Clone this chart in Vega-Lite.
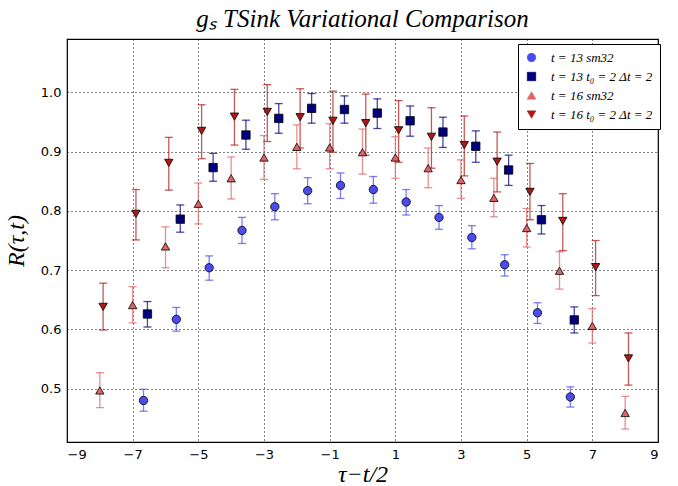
{
  "$schema": "https://vega.github.io/schema/vega-lite/v6.json",
  "autosize": "none",
  "width": 591,
  "height": 403,
  "padding": {"left": 67, "top": 39, "right": 20, "bottom": 44},
  "background": "white",
  "title": {"text": "gₛ TSink Variational Comparison", "font": "Liberation Serif", "fontStyle": "italic", "fontWeight": "normal", "fontSize": 25, "color": "black", "offset": 7},
  "config": {
    "view": {"stroke": "black", "strokeWidth": 1.2},
    "axis": {"grid": true, "gridColor": "black", "gridDash": [1, 3], "gridWidth": 1, "gridOpacity": 1, "domain": false, "ticks": false, "labelFont": "DejaVu Sans", "labelFontSize": 13, "labelColor": "black", "labelPadding": 6, "titleFont": "Liberation Serif", "titleFontStyle": "italic", "titleFontWeight": "normal", "titleFontSize": 24, "titleColor": "black"},
    "legend": {"strokeColor": "black", "fillColor": "white", "padding": 7, "rowPadding": 5, "symbolSize": 70, "symbolStrokeColor": "black", "symbolStrokeWidth": 0.8, "symbolOpacity": 1, "labelFont": "Liberation Serif", "labelFontStyle": "italic", "labelFontSize": 13, "labelColor": "black", "labelOffset": 13}
  },
  "datasets": {
    "pts": [
      {"s": "A", "x": -6.67, "y": 0.480, "lo": 0.462, "hi": 0.499},
      {"s": "A", "x": -5.67, "y": 0.617, "lo": 0.597, "hi": 0.637},
      {"s": "A", "x": -4.67, "y": 0.704, "lo": 0.683, "hi": 0.724},
      {"s": "A", "x": -3.67, "y": 0.767, "lo": 0.745, "hi": 0.789},
      {"s": "A", "x": -2.67, "y": 0.807, "lo": 0.785, "hi": 0.829},
      {"s": "A", "x": -1.67, "y": 0.834, "lo": 0.812, "hi": 0.856},
      {"s": "A", "x": -0.67, "y": 0.843, "lo": 0.821, "hi": 0.864},
      {"s": "A", "x": 0.33, "y": 0.836, "lo": 0.813, "hi": 0.858},
      {"s": "A", "x": 1.33, "y": 0.815, "lo": 0.793, "hi": 0.836},
      {"s": "A", "x": 2.33, "y": 0.789, "lo": 0.769, "hi": 0.809},
      {"s": "A", "x": 3.33, "y": 0.755, "lo": 0.736, "hi": 0.775},
      {"s": "A", "x": 4.33, "y": 0.709, "lo": 0.690, "hi": 0.726},
      {"s": "A", "x": 5.33, "y": 0.628, "lo": 0.610, "hi": 0.645},
      {"s": "A", "x": 6.33, "y": 0.486, "lo": 0.469, "hi": 0.503},
      {"s": "B", "x": -6.55, "y": 0.626, "lo": 0.604, "hi": 0.647},
      {"s": "B", "x": -5.55, "y": 0.786, "lo": 0.764, "hi": 0.810},
      {"s": "B", "x": -4.55, "y": 0.873, "lo": 0.850, "hi": 0.897},
      {"s": "B", "x": -3.55, "y": 0.928, "lo": 0.904, "hi": 0.953},
      {"s": "B", "x": -2.55, "y": 0.956, "lo": 0.931, "hi": 0.981},
      {"s": "B", "x": -1.55, "y": 0.973, "lo": 0.948, "hi": 0.998},
      {"s": "B", "x": -0.55, "y": 0.971, "lo": 0.948, "hi": 0.994},
      {"s": "B", "x": 0.45, "y": 0.965, "lo": 0.939, "hi": 0.989},
      {"s": "B", "x": 1.45, "y": 0.952, "lo": 0.926, "hi": 0.977},
      {"s": "B", "x": 2.45, "y": 0.933, "lo": 0.907, "hi": 0.958},
      {"s": "B", "x": 3.45, "y": 0.909, "lo": 0.882, "hi": 0.935},
      {"s": "B", "x": 4.45, "y": 0.869, "lo": 0.843, "hi": 0.894},
      {"s": "B", "x": 5.45, "y": 0.785, "lo": 0.761, "hi": 0.809},
      {"s": "B", "x": 6.45, "y": 0.616, "lo": 0.594, "hi": 0.638},
      {"s": "C", "x": -8, "y": 0.497, "lo": 0.468, "hi": 0.527},
      {"s": "C", "x": -7, "y": 0.641, "lo": 0.611, "hi": 0.672},
      {"s": "C", "x": -6, "y": 0.740, "lo": 0.704, "hi": 0.773},
      {"s": "C", "x": -5, "y": 0.812, "lo": 0.778, "hi": 0.847},
      {"s": "C", "x": -4, "y": 0.855, "lo": 0.820, "hi": 0.891},
      {"s": "C", "x": -3, "y": 0.890, "lo": 0.853, "hi": 0.927},
      {"s": "C", "x": -2, "y": 0.908, "lo": 0.871, "hi": 0.945},
      {"s": "C", "x": -1, "y": 0.907, "lo": 0.871, "hi": 0.947},
      {"s": "C", "x": 0, "y": 0.899, "lo": 0.862, "hi": 0.938},
      {"s": "C", "x": 1, "y": 0.890, "lo": 0.855, "hi": 0.925},
      {"s": "C", "x": 2, "y": 0.872, "lo": 0.839, "hi": 0.906},
      {"s": "C", "x": 3, "y": 0.852, "lo": 0.821, "hi": 0.886},
      {"s": "C", "x": 4, "y": 0.822, "lo": 0.790, "hi": 0.855},
      {"s": "C", "x": 5, "y": 0.771, "lo": 0.739, "hi": 0.804},
      {"s": "C", "x": 6, "y": 0.699, "lo": 0.668, "hi": 0.731},
      {"s": "C", "x": 7, "y": 0.606, "lo": 0.577, "hi": 0.635},
      {"s": "C", "x": 8, "y": 0.459, "lo": 0.432, "hi": 0.487},
      {"s": "D", "x": -7.9, "y": 0.638, "lo": 0.599, "hi": 0.678},
      {"s": "D", "x": -6.9, "y": 0.795, "lo": 0.751, "hi": 0.836},
      {"s": "D", "x": -5.9, "y": 0.881, "lo": 0.835, "hi": 0.924},
      {"s": "D", "x": -4.9, "y": 0.935, "lo": 0.888, "hi": 0.979},
      {"s": "D", "x": -3.9, "y": 0.959, "lo": 0.911, "hi": 1.005},
      {"s": "D", "x": -2.9, "y": 0.967, "lo": 0.917, "hi": 1.013},
      {"s": "D", "x": -1.9, "y": 0.958, "lo": 0.906, "hi": 1.006},
      {"s": "D", "x": -0.9, "y": 0.952, "lo": 0.899, "hi": 1.002},
      {"s": "D", "x": 0.1, "y": 0.948, "lo": 0.894, "hi": 0.997},
      {"s": "D", "x": 1.1, "y": 0.936, "lo": 0.882, "hi": 0.986},
      {"s": "D", "x": 2.1, "y": 0.925, "lo": 0.872, "hi": 0.974},
      {"s": "D", "x": 3.1, "y": 0.911, "lo": 0.859, "hi": 0.960},
      {"s": "D", "x": 4.1, "y": 0.883, "lo": 0.832, "hi": 0.933},
      {"s": "D", "x": 5.1, "y": 0.832, "lo": 0.785, "hi": 0.880},
      {"s": "D", "x": 6.1, "y": 0.783, "lo": 0.733, "hi": 0.829},
      {"s": "D", "x": 7.1, "y": 0.705, "lo": 0.657, "hi": 0.750},
      {"s": "D", "x": 8.1, "y": 0.551, "lo": 0.506, "hi": 0.594}
    ]
  },
  "data": {"name": "pts"},
  "encoding": {
    "x": {"field": "x", "type": "quantitative", "scale": {"domain": [-9, 9], "nice": false, "zero": false}, "axis": {"values": [-9, -7, -5, -3, -1, 1, 3, 5, 7, 9], "format": "d", "title": "τ−t/2", "titlePadding": 1}},
    "color": {"field": "s", "type": "nominal", "scale": {"domain": ["A", "B", "C", "D"], "range": ["#4b4bf2", "#00007f", "#e06464", "#b01818"]}, "legend": {"title": null, "orient": "none", "legendX": 451, "legendY": 5, "labelExpr": "datum.label == 'A' ? 't = 13 sm32' : datum.label == 'B' ? 't = 13 t₀ = 2 Δt = 2' : datum.label == 'C' ? 't = 16 sm32' : 't = 16 t₀ = 2 Δt = 2'", "encode": {"symbols": {"update": {"stroke": {"value": "black"}, "strokeWidth": {"value": 0.8}, "opacity": {"value": 1}}}}}}
  },
  "layer": [
    {
      "mark": {"type": "rule", "strokeWidth": 1.3, "opacity": 0.72},
      "encoding": {
        "y": {"field": "lo", "type": "quantitative", "scale": {"domain": [0.41, 1.09], "nice": false, "zero": false}, "axis": {"values": [0.5, 0.6, 0.7, 0.8, 0.9, 1.0], "format": ".1f", "title": "R(τ,t)", "titlePadding": 12}},
        "y2": {"field": "hi"}
      }
    },
    {
      "mark": {"type": "tick", "orient": "horizontal", "size": 8, "thickness": 1.3, "opacity": 0.72},
      "encoding": {
        "y": {"field": "hi", "type": "quantitative"}
      }
    },
    {
      "mark": {"type": "tick", "orient": "horizontal", "size": 8, "thickness": 1.3, "opacity": 0.72},
      "encoding": {
        "y": {"field": "lo", "type": "quantitative"}
      }
    },
    {
      "mark": {"type": "point", "filled": true, "opacity": 1, "stroke": "black", "strokeWidth": 0.8, "size": 70},
      "encoding": {
        "y": {"field": "y", "type": "quantitative"},
        "shape": {"field": "s", "type": "nominal", "scale": {"domain": ["A", "B", "C", "D"], "range": ["circle", "square", "triangle-up", "triangle-down"]}, "legend": {"title": null, "orient": "none", "legendX": 451, "legendY": 5, "labelExpr": "datum.label == 'A' ? 't = 13 sm32' : datum.label == 'B' ? 't = 13 t₀ = 2 Δt = 2' : datum.label == 'C' ? 't = 16 sm32' : 't = 16 t₀ = 2 Δt = 2'", "encode": {"symbols": {"update": {"stroke": {"value": "black"}, "strokeWidth": {"value": 0.8}, "opacity": {"value": 1}}}}}}
      }
    }
  ]
}
